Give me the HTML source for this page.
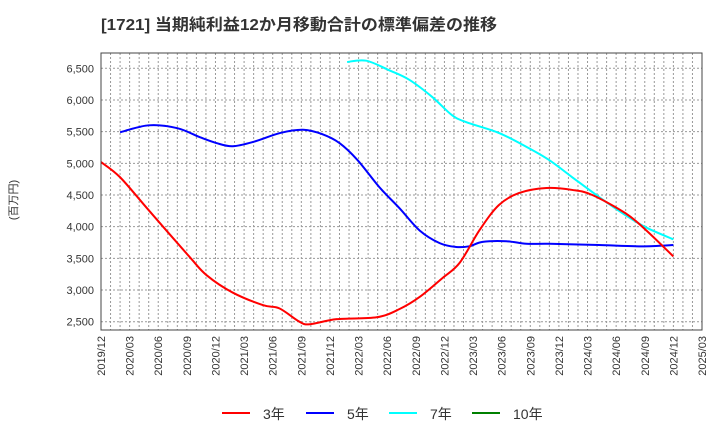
<!DOCTYPE html>
<html><head><meta charset="utf-8"><style>
body{margin:0;background:#fff;font-family:"Liberation Sans","Noto Sans CJK JP",sans-serif;}
</style></head><body>
<svg width="720" height="440" xmlns="http://www.w3.org/2000/svg" font-family="Liberation Sans, Noto Sans CJK JP, sans-serif">
<text x="101" y="30" font-size="16" font-weight="bold" fill="#333" textLength="396" lengthAdjust="spacingAndGlyphs">[1721]  当期純利益12か月移動合計の標準偏差の推移</text>
<text transform="translate(17,200) rotate(-90)" text-anchor="middle" font-size="11" fill="#333">(百万円)</text>
<g id="grid"></g><g id="axes"></g><g id="series"></g>
<rect x="101" y="53" width="601" height="277" fill="none" stroke="#444" stroke-width="1"/>
<g id="legend"></g>
</svg>
<script>
const yTicks=[2500,3000,3500,4000,4500,5000,5500,6000,6500];
const xTickLabels=["2019/12","2020/03","2020/06","2020/09","2020/12","2021/03","2021/06","2021/09","2021/12","2022/03","2022/06","2022/09","2022/12","2023/03","2023/06","2023/09","2023/12","2024/03","2024/06","2024/09","2024/12","2025/03"];
// months since 2019/12
const m3=[0,2,5,9.3,11.1,13.8,17,18.7,20.8,21.9,24.7,28.9,31.3,33.4,35.8,37.6,39.7,41.7,43.8,46.7,49.4,51.5,55,57.1,60];
const v3=[5020,4780,4260,3520,3230,2960,2760,2710,2500,2460,2540,2570,2700,2890,3190,3430,3950,4340,4530,4610,4580,4500,4210,3950,3530];
const m5=[2,5,8,10.4,12.1,13.8,16,18.8,21.2,23.2,25,26.9,29.2,31.3,33.4,35.5,37.2,38.6,40,42.5,44.6,47,52.2,56.7,60];
const v5=[5490,5600,5555,5410,5320,5270,5340,5480,5530,5460,5320,5050,4620,4290,3940,3740,3680,3690,3760,3770,3730,3730,3710,3690,3710];
const m7=[25.8,27.8,30.2,32.3,34.7,36.8,38.3,41.7,44.6,47,49.4,52.2,55,57.1,60];
const v7=[6600,6620,6470,6320,6050,5760,5650,5480,5260,5050,4780,4470,4180,3990,3800];
const X0=101,X1=702,MAXM=63;
const xs=m=>X0+m*(X1-X0)/MAXM;
const ys=v=>321.7-(v-2500)*(253.4/4000);
const NS="http://www.w3.org/2000/svg";
function mk(t,a,p){const e=document.createElementNS(NS,t);for(const k in a)e.setAttribute(k,a[k]);p.appendChild(e);return e;}
const grid=document.getElementById('grid'),axes=document.getElementById('axes'),ser=document.getElementById('series'),leg=document.getElementById('legend');
for(let m=1;m<MAXM;m++){const l=mk('line',{x1:xs(m),x2:xs(m),y1:53,y2:330,stroke:'#999','stroke-dasharray':'2,2','stroke-width':1},grid);

}
yTicks.forEach(v=>{const l=mk('line',{x1:101,x2:702,y1:ys(v),y2:ys(v),stroke:'#999','stroke-dasharray':'2,2','stroke-width':1},grid);


const t=mk('text',{x:94,y:ys(v)+4,'text-anchor':'end','font-size':11,fill:'#333'},axes);t.textContent=v.toLocaleString('en-US');

});
xTickLabels.forEach((s,i)=>{const x=xs(i*3);const t=mk('text',{transform:`translate(${x+4},336) rotate(-90)`,'text-anchor':'end','font-size':11,fill:'#333'},axes);t.textContent=s;

});
function path(ms,vs){const p=ms.map((m,i)=>[xs(m),ys(vs[i])]);let d=`M${p[0][0]},${p[0][1]}`;
for(let i=0;i<p.length-1;i++){const a=p[i-1]||p[i],b=p[i],c=p[i+1],e=p[i+2]||c;
d+=` C${b[0]+(c[0]-a[0])/6},${b[1]+(c[1]-a[1])/6} ${c[0]-(e[0]-b[0])/6},${c[1]-(e[1]-b[1])/6} ${c[0]},${c[1]}`;}return d;}
[[m7,v7,'#00ffff','line-7yr'],[m5,v5,'#0000ff','line-5yr'],[m3,v3,'#ff0000','line-3yr']].forEach(([m,v,c,n])=>{
const p=mk('path',{d:path(m,v),fill:'none',stroke:c,'stroke-width':2},ser);

});
[['3年','#ff0000',222],['5年','#0000ff',306],['7年','#00ffff',389],['10年','#008000',472]].forEach(([s,c,x])=>{
const g=mk('g',{},leg);


mk('line',{x1:x,x2:x+28,y1:413,y2:413,stroke:c,'stroke-width':2},g);
const t=mk('text',{x:x+41,y:419,'font-size':14,fill:'#333'},g);t.textContent=s;});
</script>
</body></html>
